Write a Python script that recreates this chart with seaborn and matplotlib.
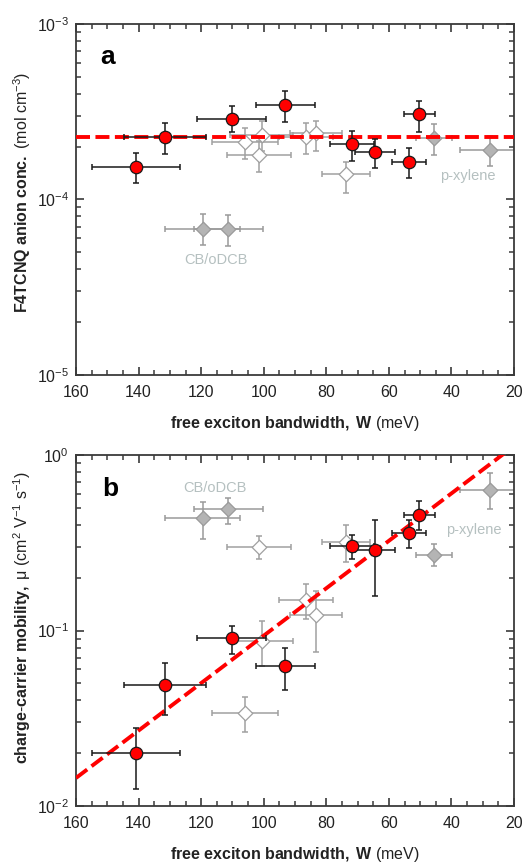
import numpy as np
import matplotlib
matplotlib.use('Agg')
import matplotlib.pyplot as plt
import seaborn as sns
from matplotlib.ticker import MultipleLocator, NullFormatter, LogLocator

# free exciton bandwidth W (meV) and its error, per sample group
w_red = [140.8, 131.6, 110.2, 93.1, 71.9, 64.4, 53.6, 50.3]
w_red_err = [14, 13, 11, 9.4, 7, 6.4, 5.4, 5]
w_fill = [119.5, 111.3, 45.6, 27.7]
w_fill_err = [12, 11, 5.8, 9.6]
w_open = [106, 100.7, 101.5, 86.6, 83.3, 73.7]
w_open_err = [10.6, 10.1, 10.3, 8.6, 8.3, 7.6]

# panel a: F4TCNQ anion concentration (mol cm^-3)
conc_red = [1.54e-4, 2.28e-4, 2.88e-4, 3.45e-4, 2.07e-4, 1.87e-4, 1.64e-4, 3.05e-4]
conc_red_lo = [1.24e-4, 1.81e-4, 2.41e-4, 2.75e-4, 1.65e-4, 1.51e-4, 1.32e-4, 2.43e-4]
conc_red_hi = [1.85e-4, 2.72e-4, 3.42e-4, 4.15e-4, 2.47e-4, 2.22e-4, 1.97e-4, 3.64e-4]
conc_fill = [6.79e-5, 6.75e-5, 2.25e-4, 1.91e-4]
conc_fill_lo = [5.49e-5, 5.4e-5, 1.79e-4, 1.55e-4]
conc_fill_hi = [8.24e-5, 8.15e-5, 2.68e-4, 2.31e-4]
conc_open = [2.12e-4, 2.33e-4, 1.8e-4, 2.28e-4, 2.38e-4, 1.39e-4]
conc_open_lo = [1.69e-4, 1.9e-4, 1.44e-4, 1.82e-4, 1.9e-4, 1.09e-4]
conc_open_hi = [2.55e-4, 2.81e-4, 2.16e-4, 2.74e-4, 2.8e-4, 1.64e-4]

# panel b: charge-carrier mobility (cm2 V-1 s-1)
mob_red = [0.020, 0.0491, 0.0902, 0.0625, 0.304, 0.289, 0.358, 0.457]
mob_red_lo = [0.0125, 0.033, 0.0735, 0.0458, 0.255, 0.158, 0.295, 0.375]
mob_red_hi = [0.0278, 0.0653, 0.106, 0.0792, 0.35, 0.425, 0.426, 0.549]
mob_fill = [0.436, 0.492, 0.270, 0.634]
mob_fill_lo = [0.332, 0.404, 0.234, 0.492]
mob_fill_hi = [0.542, 0.566, 0.311, 0.787]
mob_open = [0.0339, 0.0875, 0.300, 0.150, 0.123, 0.318]
mob_open_lo = [0.0263, 0.063, 0.255, 0.116, 0.0757, 0.245]
mob_open_hi = [0.0416, 0.1137, 0.347, 0.184, 0.167, 0.399]

sns.set_style('ticks')
plt.rcParams['font.family'] = ['Liberation Sans', 'DejaVu Sans']
plt.rcParams['mathtext.fontset'] = 'custom'
plt.rcParams['mathtext.rm'] = 'Liberation Sans'
plt.rcParams['mathtext.bf'] = 'Liberation Sans:bold'
plt.rcParams['mathtext.it'] = 'Liberation Sans:italic'
plt.rcParams['text.color'] = '#222222'
plt.rcParams['axes.labelcolor'] = '#222222'
plt.rcParams['xtick.labelcolor'] = '#222222'
plt.rcParams['ytick.labelcolor'] = '#222222'

spine_col = '#3a3a3a'
label_col = '#b5c0c0'


def draw_group(ax, w, w_err, y, y_lo, y_hi, marker, face, edge, bar_col, size, z):
    yerr = [np.subtract(y, y_lo), np.subtract(y_hi, y)]
    ax.errorbar(w, y, xerr=w_err, yerr=yerr, fmt='none', ecolor=bar_col,
                elinewidth=1.1, capsize=2.5, capthick=1.1, zorder=z)
    sns.scatterplot(x=w, y=y, ax=ax, marker=marker, s=size, color=face,
                    edgecolor=edge, linewidth=0.9, zorder=z + 0.5)


def style_axis(ax, ylim):
    ax.set_xlim(160, 20)
    ax.set_ylim(*ylim)
    ax.xaxis.set_major_locator(MultipleLocator(20))
    ax.xaxis.set_minor_locator(MultipleLocator(5))
    ax.yaxis.set_minor_locator(LogLocator(base=10, subs=np.arange(2, 10)))
    ax.yaxis.set_minor_formatter(NullFormatter())
    ax.tick_params(which='both', direction='in', top=True, right=True,
                   bottom=True, left=True, color=spine_col, labelsize=11.5)
    ax.tick_params(which='major', length=6, width=1.2)
    ax.tick_params(which='minor', length=3.5, width=1.1)
    ax.tick_params(axis='x', which='major', pad=7)
    ax.tick_params(axis='y', which='major', pad=5)
    for sp in ax.spines.values():
        sp.set_visible(True)
        sp.set_color(spine_col)
        sp.set_linewidth(1.3)


fig = plt.figure(figsize=(5.25, 8.64), dpi=100)
ax_a = fig.add_axes([0.1448, 0.566, 0.8343, 0.4063])
ax_b = fig.add_axes([0.1448, 0.0671, 0.8343, 0.4063])

dash = (0, (3.6, 1.4))
w_line = np.linspace(160, 20, 60)

# ---- panel a
ax_a.set_yscale('log')
draw_group(ax_a, w_open, w_open_err, conc_open, conc_open_lo, conc_open_hi,
           'D', 'white', '#a0a0a0', '#a0a0a0', 55, 2)
draw_group(ax_a, w_fill, w_fill_err, conc_fill, conc_fill_lo, conc_fill_hi,
           'D', '#b4b4b4', '#9a9a9a', '#9a9a9a', 55, 2)
conc_mean = 10 ** np.mean(np.log10(conc_red))
ax_a.plot(w_line, np.full_like(w_line, conc_mean), color='red', lw=2.8,
          linestyle=dash, zorder=3)
draw_group(ax_a, w_red, w_red_err, conc_red, conc_red_lo, conc_red_hi,
           'o', 'red', '#1a1a1a', '#1a1a1a', 80, 4)
style_axis(ax_a, (1e-5, 1e-3))
ax_a.text(0.073, 0.906, 'a', transform=ax_a.transAxes, fontsize=19,
          fontweight='bold', ha='center', va='center', color='black')
ax_a.text(34.7, 1.36e-4, 'p-xylene', color=label_col, fontsize=10.5,
          ha='center', va='center')
ax_a.text(115.3, 4.52e-5, 'CB/oDCB', color=label_col, fontsize=10.5,
          ha='center', va='center')
ax_a.set_xlabel(r'$\mathbf{free\ exciton\ bandwidth,\ W}$ (meV)', fontsize=11.5)
ax_a.set_ylabel(r'$\mathbf{F4TCNQ\ anion\ conc.}$ (mol cm$^{-3}$)', fontsize=11.5)
ax_a.xaxis.set_label_coords(0.5, -0.11)
ax_a.yaxis.set_label_coords(-0.098, 0.521)

# ---- panel b
ax_b.set_yscale('log')
draw_group(ax_b, w_open, w_open_err, mob_open, mob_open_lo, mob_open_hi,
           'D', 'white', '#a0a0a0', '#a0a0a0', 55, 2)
draw_group(ax_b, w_fill, w_fill_err, mob_fill, mob_fill_lo, mob_fill_hi,
           'D', '#b4b4b4', '#9a9a9a', '#9a9a9a', 55, 2)
slope, icpt = np.polyfit(w_red, np.log10(mob_red), 1)
ax_b.plot(w_line, 10 ** (icpt + slope * w_line), color='red', lw=2.8,
          linestyle=dash, zorder=3)
draw_group(ax_b, w_red, w_red_err, mob_red, mob_red_lo, mob_red_hi,
           'o', 'red', '#1a1a1a', '#1a1a1a', 80, 4)
style_axis(ax_b, (1e-2, 1))
ax_b.text(0.078, 0.903, 'b', transform=ax_b.transAxes, fontsize=19,
          fontweight='bold', ha='center', va='center', color='black')
ax_b.text(33, 0.375, 'p-xylene', color=label_col, fontsize=10.5,
          ha='center', va='center')
ax_b.text(115.6, 0.649, 'CB/oDCB', color=label_col, fontsize=10.5,
          ha='center', va='center')
ax_b.set_xlabel(r'$\mathbf{free\ exciton\ bandwidth,\ W}$ (meV)', fontsize=11.5)
ax_b.set_ylabel(r'$\mathbf{charge}$-$\mathbf{carrier\ mobility,}$ μ (cm$^{2}$ V$^{-1}$ s$^{-1}$)',
                fontsize=11.5)
ax_b.xaxis.set_label_coords(0.5, -0.11)
ax_b.yaxis.set_label_coords(-0.098, 0.538)

fig.savefig('out.png', dpi=100)
plt.close(fig)
